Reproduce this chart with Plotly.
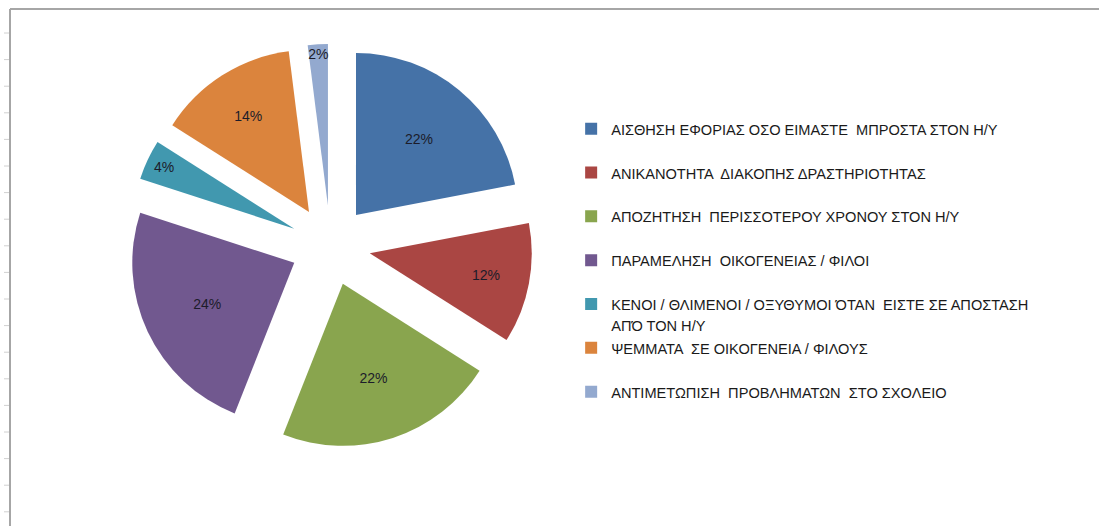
import plotly.graph_objects as go

# Slice order: clockwise from 12 o'clock
LABELS = [
    "ΑΙΣΘΗΣΗ ΕΦΟΡΙΑΣ ΟΣΟ ΕΙΜΑΣΤΕ  ΜΠΡΟΣΤΑ ΣΤΟΝ Η/Υ",
    "ΑΝΙΚΑΝΟΤΗΤΑ  ΔΙΑΚΟΠΗΣ ΔΡΑΣΤΗΡΙΟΤΗΤΑΣ",
    "ΑΠΟΖΗΤΗΣΗ  ΠΕΡΙΣΣΟΤΕΡΟΥ ΧΡΟΝΟΥ ΣΤΟΝ Η/Υ",
    "ΠΑΡΑΜΕΛΗΣΗ  ΟΙΚΟΓΕΝΕΙΑΣ / ΦΙΛΟΙ",
    "ΚΕΝΟΙ / ΘΛΙΜΕΝΟΙ / ΟΞΥΘΥΜΟΙ ΌΤΑΝ  ΕΙΣΤΕ ΣΕ ΑΠΟΣΤΑΣΗ<br>ΑΠΌ ΤΟΝ Η/Υ",
    "ΨΕΜΜΑΤΑ  ΣΕ ΟΙΚΟΓΕΝΕΙΑ / ΦΙΛΟΥΣ",
    "ΑΝΤΙΜΕΤΩΠΙΣΗ  ΠΡΟΒΛΗΜΑΤΩΝ  ΣΤΟ ΣΧΟΛΕΙΟ",
]
VALUES = [22, 12, 22, 24, 4, 14, 2]
COLORS = ["#4572A7", "#AA4643", "#89A54E", "#71588F", "#4198AF", "#DB843D", "#93A9CF"]

FONT = "Liberation Sans"


def legend_text(label):
    # smaller glyphs inside a taller legend row, padded to two lines so all rows match Excel spacing
    lines = label.split("<br>")
    body = "<br>".join(f"<span style='font-size:14.6px'>{ln}</span>" for ln in lines)
    return body if len(lines) > 1 else body + "<br> "


legend_labels = [legend_text(l) for l in LABELS]

fig = go.Figure()
fig.add_trace(go.Pie(
    labels=legend_labels,
    values=VALUES,
    sort=False,
    direction="clockwise",
    rotation=0,
    pull=[0.247] * len(VALUES),
    marker=dict(colors=COLORS, line=dict(width=0)),
    textinfo="percent",
    texttemplate="%{percent:.0%}",
    textposition="inside",
    insidetextorientation="horizontal",
    textfont=dict(family=FONT, size=14, color="#1c1c2a"),
    domain=dict(x=[0.1169, 0.4845], y=[0.1487, 0.9167]),
    hovertemplate="%{value}<extra></extra>",
))

# spreadsheet frame around the chart object
shapes = [
    dict(type="line", xref="paper", yref="paper", x0=10 / 1099, x1=1, y0=1 - 9 / 526, y1=1 - 9 / 526,
         line=dict(color="#a6a6a6", width=2)),
    dict(type="line", xref="paper", yref="paper", x0=10 / 1099, x1=10 / 1099, y0=0, y1=1 - 9 / 526,
         line=dict(color="#a6a6a6", width=2)),
]
for i in range(19):
    yy = 33 + i * 26.6
    shapes.append(dict(type="line", xref="paper", yref="paper", x0=4 / 1099, x1=9 / 1099,
                       y0=1 - yy / 526, y1=1 - yy / 526, line=dict(color="#d0d0d0", width=1)))

fig.update_layout(
    width=1099,
    height=526,
    paper_bgcolor="white",
    plot_bgcolor="white",
    margin=dict(l=0, r=0, t=0, b=0),
    shapes=shapes,
    uniformtext=dict(minsize=14, mode="show"),
    showlegend=True,
    legend=dict(
        x=0.5197, xanchor="left",
        y=1 - 112 / 526, yanchor="top",
        valign="top",
        font=dict(family=FONT, size=15.7, color="#1a1a1a"),
        bgcolor="rgba(0,0,0,0)",
        itemclick=False,
    ),
)

fig.write_html("out.html", config={"displayModeBar": False},
               post_script="document.body.style.margin='0';")
